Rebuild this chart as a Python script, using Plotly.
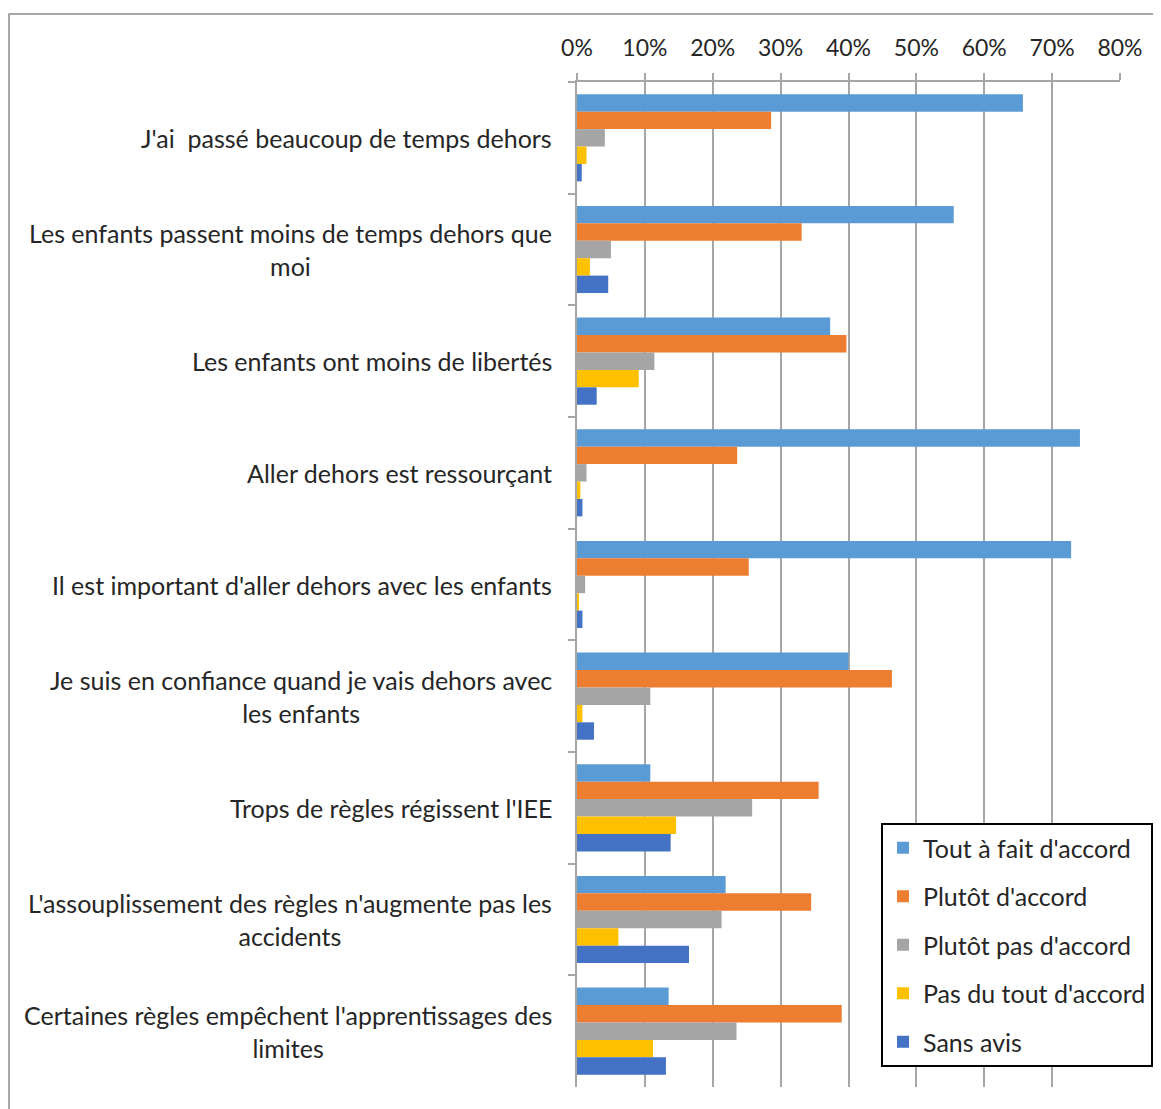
import plotly.graph_objects as go

categories = [
    "J'ai  passé beaucoup de temps dehors",
    "Les enfants passent moins de temps dehors que<br>moi",
    "Les enfants ont moins de libertés",
    "Aller dehors est ressourçant",
    "Il est important d'aller dehors avec les enfants",
    "Je suis en confiance quand je vais dehors avec<br>les enfants",
    "Trops de règles régissent l'IEE",
    "L'assouplissement des règles n'augmente pas les<br>accidents",
    "Certaines règles empêchent l'apprentissages des<br>limites",
]

series_names = [
    "Tout à fait d'accord",
    "Plutôt d'accord",
    "Plutôt pas d'accord",
    "Pas du tout d'accord",
    "Sans avis",
]

tout_a_fait = [0.657, 0.555, 0.373, 0.741, 0.728, 0.400, 0.108, 0.219, 0.135]
plutot_accord = [0.286, 0.331, 0.397, 0.236, 0.253, 0.464, 0.356, 0.345, 0.390]
plutot_pas = [0.041, 0.050, 0.114, 0.014, 0.012, 0.108, 0.258, 0.213, 0.235]
pas_du_tout = [0.014, 0.019, 0.091, 0.005, 0.002, 0.008, 0.146, 0.061, 0.112]
sans_avis = [0.007, 0.046, 0.029, 0.008, 0.008, 0.025, 0.138, 0.165, 0.131]

values = [tout_a_fait, plutot_accord, plutot_pas, pas_du_tout, sans_avis]
colors = ["#5B9BD5", "#ED7D31", "#A5A5A5", "#FFC000", "#4472C4"]

FONT = "Lato"
OFF = 8  # page body margin offset
W, H = 1161, 1109
L = 577 - OFF
T = 82 - OFF
R = W - (1120 - OFF)
B = H - (1087 - OFF)
PW = W - L - R
PH = H - T - B


def px_x(x):
    return (x - OFF - L) / PW


def px_y(y):
    return (H - B - (y - OFF)) / PH


fig = go.Figure()
for name, vals, col in zip(series_names, values, colors):
    fig.add_trace(go.Bar(
        y=categories, x=vals, name=name, orientation="h",
        marker=dict(color=col, line=dict(width=0)),
        legendgroup=name,
    ))

fig.update_layout(
    width=W, height=H,
    margin=dict(l=L, r=R, t=T, b=B),
    paper_bgcolor="white", plot_bgcolor="white",
    barmode="group", bargap=0.22, bargroupgap=0,
    font=dict(family=FONT, size=25, color="#262626"),
    showlegend=True,
    legend=dict(
        x=px_x(881), y=px_y(823),
        xanchor="left", yanchor="top",
        bgcolor="white", bordercolor="black", borderwidth=2,
        font=dict(family=FONT, size=25, color="#262626"),
        tracegroupgap=13, traceorder="grouped",
    ),
    xaxis=dict(
        side="top", range=[0, 0.8], dtick=0.1, tickformat=".0%",
        showgrid=True, gridcolor="#A6A6A6", gridwidth=1.5,
        showline=True, linecolor="#A6A6A6", linewidth=1.5,
        ticks="outside", ticklen=7, tickcolor="#A6A6A6", tickwidth=1.5,
        ticklabelstandoff=8,
        zeroline=False,
        tickfont=dict(family=FONT, size=23, color="#262626"),
    ),
    yaxis=dict(
        autorange="reversed", showticklabels=False,
        showline=True, linecolor="#A6A6A6", linewidth=1.5,
        ticks="outside", ticklen=7, tickcolor="#A6A6A6", tickwidth=1.5,
        tickson="boundaries", showgrid=False,
    ),
)

for cat in categories:
    fig.add_annotation(
        x=0, xref="paper", y=cat, yref="y",
        text=cat, showarrow=False, xanchor="right", yanchor="middle",
        align="center", xshift=-23,
        font=dict(family=FONT, size=25, color="#262626"),
    )

# outer chart border
fig.add_shape(
    type="rect", xref="paper", yref="paper",
    x0=px_x(9), x1=px_x(W + 40),
    y0=px_y(H + 40), y1=px_y(14),
    line=dict(color="#8C8C8C", width=1.5), fillcolor="rgba(0,0,0,0)",
    layer="below",
)

fig.write_html("out.html")
